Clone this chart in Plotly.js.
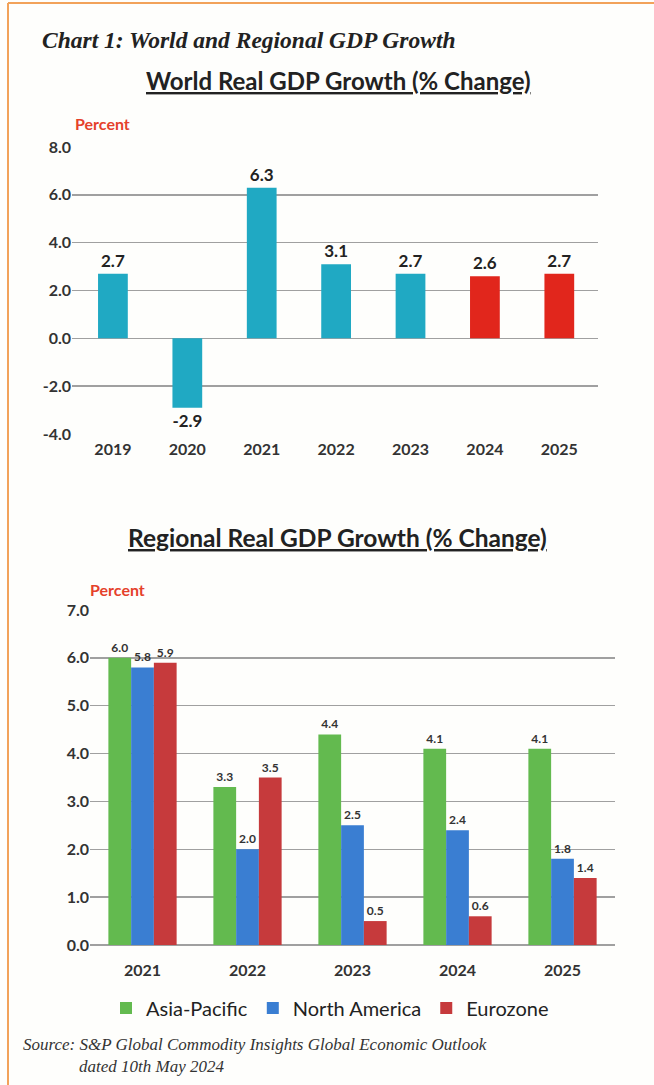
<!DOCTYPE html>
<html>
<head>
<meta charset="utf-8">
<script src="https://cdn.plot.ly/plotly-3.0.1.min.js"></script>
<style>
html,body{margin:0;padding:0;background:#fefefc;}
#chart{width:654px;height:1085px;}
</style>
</head>
<body>
<div id="chart"></div>
<script>
// ---- World chart data ----
const worldYears = ['2019','2020','2021','2022','2023','2024','2025'];
const worldGrowth = [2.7, -2.9, 6.3, 3.1, 2.7, 2.6, 2.7];
const worldColors = ['#20a9c3','#20a9c3','#20a9c3','#20a9c3','#20a9c3','#e1261c','#e1261c'];

// ---- Regional chart data ----
const regionYears = ['2021','2022','2023','2024','2025'];
const asiaPacific = [6.0, 3.3, 4.4, 4.1, 4.1];
const northAmerica = [5.8, 2.0, 2.5, 2.4, 1.8];
const eurozone = [5.9, 3.5, 0.5, 0.6, 1.4];

const worldTicks = [-4, -2, 0, 2, 4, 6, 8];
const regionTicks = [0, 1, 2, 3, 4, 5, 6, 7];

const W = 654, H = 1085;
const px = x => x / W;
const py = y => 1 - y / H;

const fontSans = 'Lato, "Open Sans", sans-serif';
const fontSerif = '"Liberation Serif", "DejaVu Serif", serif';

const smallLabel = {family: fontSans, size: 12, color: '#333', weight: 'bold'};

const traces = [
  {
    type: 'bar', x: worldYears, y: worldGrowth, xaxis: 'x', yaxis: 'y',
    width: 0.4,
    marker: {color: worldColors},
    text: worldGrowth.map(v => v.toFixed(1)), textposition: 'outside',
    textfont: {family: fontSans, size: 17, color: '#222', weight: 'bold'},
    cliponaxis: false, showlegend: false, hoverinfo: 'skip'
  },
  {
    type: 'bar', name: 'Asia-Pacific', x: regionYears, y: asiaPacific, xaxis: 'x2', yaxis: 'y2',
    marker: {color: '#63ba4f'},
    text: asiaPacific.map(v => v.toFixed(1)), textposition: 'outside',
    textfont: smallLabel, cliponaxis: false
  },
  {
    type: 'bar', name: 'North America', x: regionYears, y: northAmerica, xaxis: 'x2', yaxis: 'y2',
    marker: {color: '#3a7ed2'},
    text: northAmerica.map(v => v.toFixed(1)), textposition: 'outside',
    textfont: smallLabel, cliponaxis: false
  },
  {
    type: 'bar', name: 'Eurozone', x: regionYears, y: eurozone, xaxis: 'x2', yaxis: 'y2',
    marker: {color: '#c63a3c'},
    text: eurozone.map(v => v.toFixed(1)), textposition: 'outside',
    textfont: smallLabel, cliponaxis: false
  }
];

const axisFont = {family: fontSans, size: 16, color: '#333', weight: 'bold'};

const layout = {
  width: W, height: H,
  margin: {l: 0, r: 0, t: 0, b: 0},
  paper_bgcolor: '#fefefc', plot_bgcolor: 'rgba(0,0,0,0)',
  barmode: 'group', bargap: 0.35, bargroupgap: 0,
  font: {family: fontSans},
  xaxis: {
    domain: [px(72), px(598)], anchor: 'y', type: 'category',
    range: [-0.55, 6.52], showgrid: false, zeroline: false, showline: false,
    tickfont: axisFont, ticks: '', ticklabelstandoff: 4, fixedrange: true
  },
  yaxis: {
    domain: [py(434), py(147)], anchor: 'x', range: [-4, 8],
    tickvals: worldTicks, ticktext: worldTicks.map(v => v.toFixed(1)),
    showgrid: true, gridcolor: '#a0a0a0', gridwidth: 1.5,
    zeroline: true, zerolinecolor: '#a0a0a0', zerolinewidth: 1.5,
    showline: false, tickfont: axisFont, ticks: '', fixedrange: true
  },
  xaxis2: {
    domain: [px(90), px(615)], anchor: 'y2', type: 'category',
    range: [-0.5, 4.5], showgrid: false, zeroline: false, showline: false,
    tickfont: axisFont, ticks: '', ticklabelstandoff: 14, fixedrange: true
  },
  yaxis2: {
    domain: [py(945), py(610)], anchor: 'x2', range: [0, 7],
    tickvals: regionTicks, ticktext: regionTicks.map(v => v.toFixed(1)),
    showgrid: true, gridcolor: '#a0a0a0', gridwidth: 1.5,
    zeroline: true, zerolinecolor: '#a0a0a0', zerolinewidth: 1.5,
    showline: false, tickfont: axisFont, ticks: '', fixedrange: true
  },
  legend: {
    orientation: 'h', x: px(330), xanchor: 'center', y: py(1008), yanchor: 'middle',
    font: {family: fontSans, size: 20, color: '#222'},
    itemwidth: 30, tracegroupgap: 0, bgcolor: 'rgba(0,0,0,0)'
  },
  annotations: [
    {text: '<b><i>Chart 1: World and Regional GDP Growth</i></b>', xref: 'paper', yref: 'paper',
     x: px(40), y: py(40), xanchor: 'left', yanchor: 'middle', showarrow: false,
     font: {family: fontSerif, size: 23.5, color: '#222'}},
    {text: '<u>World Real GDP Growth (% Change)</u>', xref: 'paper', yref: 'paper',
     x: px(338), y: py(80), xanchor: 'center', yanchor: 'middle', showarrow: false,
     font: {family: fontSans, size: 24, color: '#222', weight: 'bold'}},
    {text: 'Percent', xref: 'paper', yref: 'paper',
     x: px(73), y: py(123), xanchor: 'left', yanchor: 'middle', showarrow: false,
     font: {family: fontSans, size: 16, color: '#e5412b', weight: 'bold'}},
    {text: '<u>Regional Real GDP Growth (% Change)</u>', xref: 'paper', yref: 'paper',
     x: px(337), y: py(537), xanchor: 'center', yanchor: 'middle', showarrow: false,
     font: {family: fontSans, size: 24.5, color: '#222', weight: 'bold'}},
    {text: 'Percent', xref: 'paper', yref: 'paper',
     x: px(88), y: py(589), xanchor: 'left', yanchor: 'middle', showarrow: false,
     font: {family: fontSans, size: 16, color: '#e5412b', weight: 'bold'}},
    {text: '<i>Source: S&amp;P Global Commodity Insights Global Economic Outlook</i>', xref: 'paper', yref: 'paper',
     x: px(21), y: py(1044), xanchor: 'left', yanchor: 'middle', showarrow: false,
     font: {family: fontSerif, size: 17, color: '#333'}},
    {text: '<i>dated 10th May 2024</i>', xref: 'paper', yref: 'paper',
     x: px(77), y: py(1066), xanchor: 'left', yanchor: 'middle', showarrow: false,
     font: {family: fontSerif, size: 17, color: '#333'}}
  ],
  shapes: [
    {type: 'line', xref: 'paper', yref: 'paper', x0: px(8), x1: px(8), y0: 0, y1: py(3),
     line: {color: '#f2a25a', width: 2}},
    {type: 'line', xref: 'paper', yref: 'paper', x0: px(8), x1: 1, y0: py(3), y1: py(3),
     line: {color: '#f2a25a', width: 2}}
  ]
};

Plotly.newPlot('chart', traces, layout, {displayModeBar: false, staticPlot: true});
</script>
</body>
</html>
